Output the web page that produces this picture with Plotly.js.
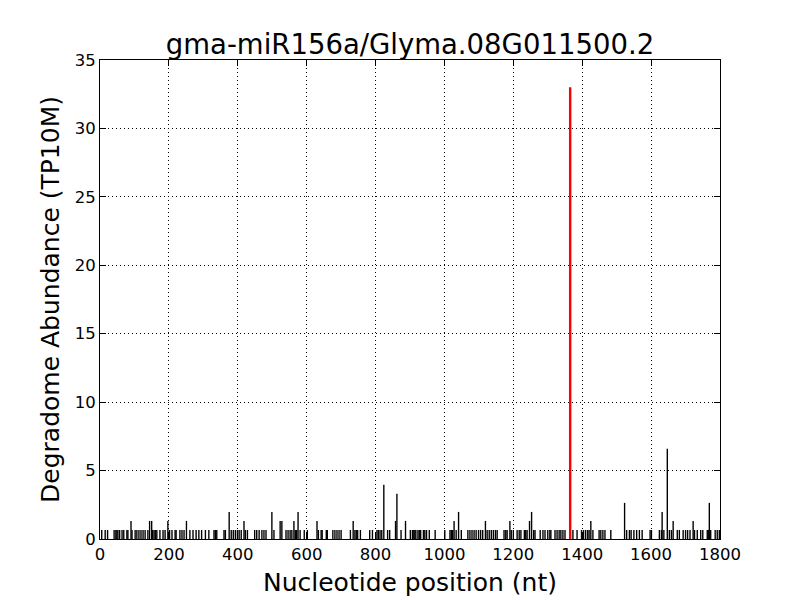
<!DOCTYPE html>
<html>
<head>
<meta charset="utf-8">
<script src="https://cdn.plot.ly/plotly-3.0.1.min.js"></script>
<style>html,body{margin:0;padding:0;background:#fff;}#chart{width:800px;height:600px;}</style>
</head>
<body>
<div id="chart"></div>
<script>
// Degradome read positions (nt) and abundances (TP10M)
const positions = [
  5,15,22,41,46,49,52,57,64,69,78,81,90,93,102,107,113,119,125,131,139,144,150,153,157,161,165,174,183,189,197,202,209,218,221,232,238,244,251,261,270,279,287,295,
  306,316,331,335,339,360,364,375,381,387,393,399,404,410,418,422,428,449,455,462,470,476,482,499,505,523,528,540,546,552,557,563,567,571,575,581,593,602,
  630,634,642,645,657,660,676,682,688,694,700,727,735,740,744,748,756,783,791,804,808,813,818,824,835,841,858,862,874,887,901,907,
  911,914,917,923,927,931,939,943,948,956,973,1001,1016,1020,1024,1028,1034,1041,1049,1068,1074,1080,1086,1092,1099,1105,1111,1119,1124,1130,1136,1142,1148,1153,1173,1178,1182,1190,1194,1200,1211,1217,
  1222,1232,1236,1240,1247,1253,1259,1263,1278,1286,1292,1300,1306,1309,1321,1327,1333,1338,1344,1350,1373,1385,1398,1404,1410,1416,1420,1425,1431,1449,1454,1460,1466,1483,
  1523,1529,1537,1542,1550,1558,1566,1574,1597,1601,1624,1630,1632,1637,1647,1653,1659,1664,1676,1682,1693,1700,1706,1713,1722,1726,1734,1744,1750,1763,1766,1769,1773,1786,1792,1798
];
const abundance = [
  0.66,0.66,0.66,0.66,0.66,0.66,0.66,0.66,0.66,0.66,0.66,0.66,1.32,0.66,0.66,0.66,0.66,0.66,0.66,0.66,0.66,1.32,1.32,0.66,0.66,0.66,0.66,0.66,0.66,0.66,1.32,0.66,0.66,0.66,0.66,0.66,0.66,0.66,1.32,0.66,0.66,0.66,0.66,0.66,
  0.66,0.66,0.66,0.66,0.66,0.66,0.66,1.98,0.66,0.66,0.66,0.66,0.66,0.66,1.32,0.66,0.66,0.66,0.66,0.66,0.66,0.66,0.66,1.98,0.66,1.32,1.32,0.66,0.66,0.66,0.66,1.32,0.66,0.66,1.98,0.66,0.66,0.66,
  1.32,0.66,0.66,0.66,0.66,0.66,0.66,0.66,0.66,0.66,0.66,0.66,1.32,0.66,0.66,0.66,0.66,0.66,0.66,0.66,0.66,0.66,0.66,3.96,0.66,0.66,1.32,3.30,0.66,1.32,0.66,0.66,
  0.66,0.66,0.66,0.66,0.66,0.66,0.66,0.66,0.66,0.66,0.66,0.66,0.66,0.66,0.66,1.32,0.66,1.98,0.66,0.66,0.66,0.66,0.66,0.66,0.66,0.66,0.66,1.32,0.66,0.66,0.66,0.66,0.66,0.66,0.66,0.66,0.66,1.32,0.66,0.66,0.66,0.66,
  0.66,0.66,0.66,0.66,1.32,1.98,0.66,0.66,0.66,0.66,0.66,0.66,0.66,0.66,0.66,0.66,0.66,0.66,0.66,0.66,0.66,0.66,0.66,0.66,0.66,0.66,0.66,1.32,0.66,0.66,0.66,0.66,0.66,0.66,
  2.64,0.66,0.66,0.66,0.66,0.66,0.66,0.66,0.66,0.66,0.66,0.66,1.98,0.66,6.60,0.66,0.66,1.32,0.66,0.66,0.66,0.66,0.66,0.66,1.32,0.66,0.66,0.66,0.66,0.66,0.66,2.64,0.66,0.66,0.66,0.66
];
// miRNA cleavage site
const targetPosition = [1365];
const targetAbundance = [33.0];

const titleText = 'gma-miR156a/Glyma.08G011500.2';
const xTitle = 'Nucleotide position (nt)';
const yTitle = 'Degradome Abundance (TP10M)';
const xTicks = [0,200,400,600,800,1000,1200,1400,1600,1800];
const yTicks = [0,5,10,15,20,25,30,35];

const font = 'DejaVu Sans, sans-serif';

const traces = [
  {type:'bar', x:positions, y:abundance, width:positions.map(()=>4),
   marker:{color:'#000000', line:{width:0}}, hoverinfo:'x+y'},
  {type:'bar', x:targetPosition, y:targetAbundance, width:targetPosition.map(()=>7),
   marker:{color:'#ff0000', line:{width:0}}, hoverinfo:'x+y'}
];

const axisCommon = {
  showline:true, linecolor:'#000', linewidth:1, mirror:'ticks',
  ticks:'inside', ticklen:6, tickwidth:1, tickcolor:'#000',
  showgrid:true, gridcolor:'#000', gridwidth:1, griddash:'1px,3px',
  zeroline:false, tickfont:{family:font, size:16.5, color:'#000'}
};

const layout = {
  width:800, height:600,
  margin:{l:100, r:80, t:60, b:61},
  paper_bgcolor:'#fff', plot_bgcolor:'#fff',
  showlegend:false, barmode:'overlay',
  title:{text:titleText, font:{family:font, size:27.5, color:'#000'}, xref:'paper', x:0.5, xanchor:'center', y:1-44/600, yanchor:'middle'},
  xaxis:Object.assign({}, axisCommon, {range:[0,1800], tickvals:xTicks, ticktext:xTicks.map(String),
    title:{text:xTitle, font:{family:font, size:25, color:'#000'}, standoff:10}}),
  yaxis:Object.assign({}, axisCommon, {range:[0,35], tickvals:yTicks, ticktext:yTicks.map(String),
    title:{text:yTitle, font:{family:font, size:25, color:'#000'}, standoff:7}})
};

Plotly.newPlot('chart', traces, layout, {displayModeBar:false, staticPlot:true});
</script>
</body>
</html>
